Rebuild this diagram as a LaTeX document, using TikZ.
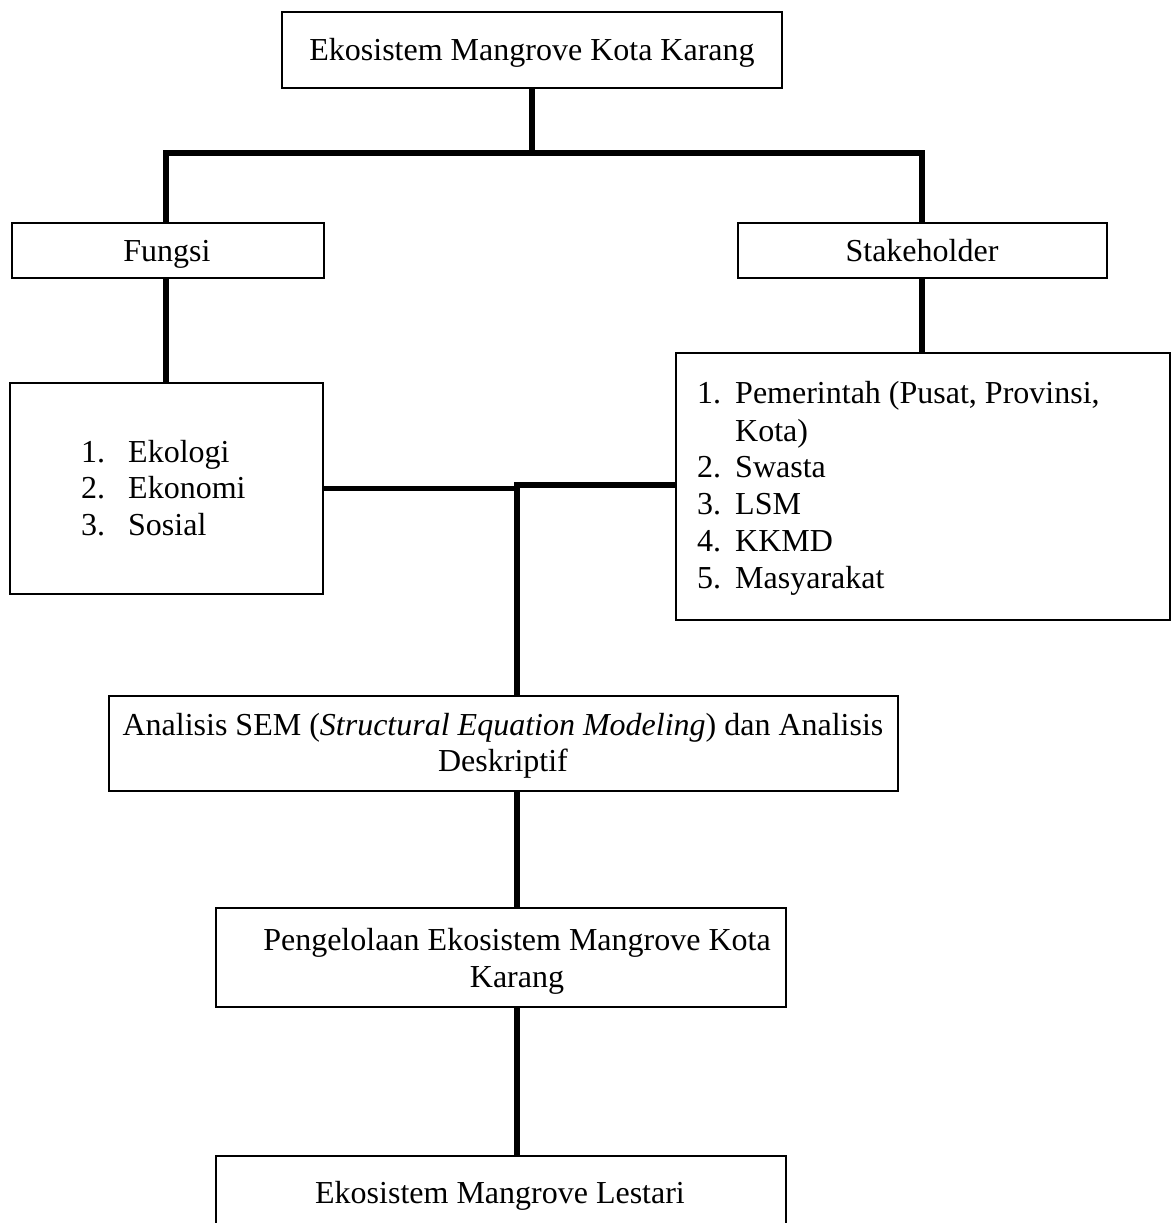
\documentclass[tikz,border=0pt]{standalone}
\usepackage{fontspec}
\setmainfont{Liberation Serif}
\begin{document}
\begin{tikzpicture}[x=1pt,y=1pt,
  box/.style={draw=black,line width=2.2pt,fill=none},
  conn/.style={line width=5.5pt,line cap=butt},
  txt/.style={inner sep=0pt,font=\fontsize{32}{37}\selectfont},
  item/.style={txt,anchor=base west},
  ctr/.style={txt,anchor=base}]
\clip (0,0) rectangle (1171,-1223);
% boxes
\node[box,minimum width=500pt,minimum height=76pt,anchor=north west,inner sep=0pt] (topb) at (281,-11) {};
\node[ctr] (top) at (532,-60) {Ekosistem Mangrove Kota Karang};

\node[box,minimum width=312pt,minimum height=55pt,anchor=north west,inner sep=0pt] (fun) at (11,-222) {};
\node[ctr] (funtxt) at (167,-261) {Fungsi};
\node[box,minimum width=369pt,minimum height=55pt,anchor=north west,inner sep=0pt] (stk) at (737,-222) {};
\node[ctr] (stktxt) at (922,-261) {Stakeholder};

\node[box,minimum width=313pt,minimum height=211pt,anchor=north west,inner sep=0pt] (fl) at (9,-382) {};
\node[item] (f1n) at (81,-462) {1.};
\node[item] (f1) at (128,-462) {Ekologi};
\node[item] (f2n) at (81,-498) {2.};
\node[item] (f2) at (128,-498) {Ekonomi};
\node[item] (f3n) at (81,-535) {3.};
\node[item] (f3) at (128,-535) {Sosial};

\node[box,minimum width=494pt,minimum height=267pt,anchor=north west,inner sep=0pt] (sl) at (675,-352) {};
\node[item] (s1n) at (697,-403) {1.};
\node[item] (s1) at (735,-403) {Pemerintah (Pusat, Provinsi,};
\node[item] (s1b) at (735,-441) {Kota)};
\node[item] (s2n) at (697,-477) {2.};
\node[item] (s2) at (735,-477) {Swasta};
\node[item] (s3n) at (697,-514) {3.};
\node[item] (s3) at (735,-514) {LSM};
\node[item] (s4n) at (697,-551) {4.};
\node[item] (s4) at (735,-551) {KKMD};
\node[item] (s5n) at (697,-588) {5.};
\node[item] (s5) at (735,-588) {Masyarakat};

\node[box,minimum width=789pt,minimum height=95pt,anchor=north west,inner sep=0pt] (sem) at (108,-695) {};
\node[ctr] (sem1) at (503,-735) {Analisis SEM (\textit{Structural Equation Modeling}) dan Analisis};
\node[ctr] (sem2) at (503,-771) {Deskriptif};

\node[box,minimum width=570pt,minimum height=99pt,anchor=north west,inner sep=0pt] (peng) at (215,-907) {};
\node[ctr] (peng1) at (517,-950) {Pengelolaan Ekosistem Mangrove Kota};
\node[ctr] (peng2) at (517,-987) {Karang};

\node[box,minimum width=570pt,minimum height=120pt,anchor=north west,inner sep=0pt] (les) at (215,-1155) {};
\node[ctr] (lestxt) at (500,-1203) {Ekosistem Mangrove Lestari};

% connectors
\coordinate (hl) at (166,-153);
\coordinate (hr) at (922,-153);
\coordinate (hm) at (532,-153);
\coordinate (j) at (517,-485);
\draw[conn] (topb.south -| hm) -- (hm);
\draw[conn,line cap=rect] (hl) -- (hr);
\draw[conn] (hl) -- (hl |- fun.north);
\draw[conn] (hr) -- (hr |- stk.north);
\draw[conn] (fun.south -| hl) -- (fl.north -| hl);
\draw[conn] (stk.south -| hr) -- (sl.north -| hr);
\draw[conn] (fl.east) -- (fl.east -| j);
\draw[conn] (j |- fl.east) -- (j) -- (sl.west |- j);
\draw[conn] (j) -- (j |- sem.north);
\draw[conn] (j |- sem.south) -- (j |- peng.north);
\draw[conn] (j |- peng.south) -- (j |- les.north);
\end{tikzpicture}
\end{document}
